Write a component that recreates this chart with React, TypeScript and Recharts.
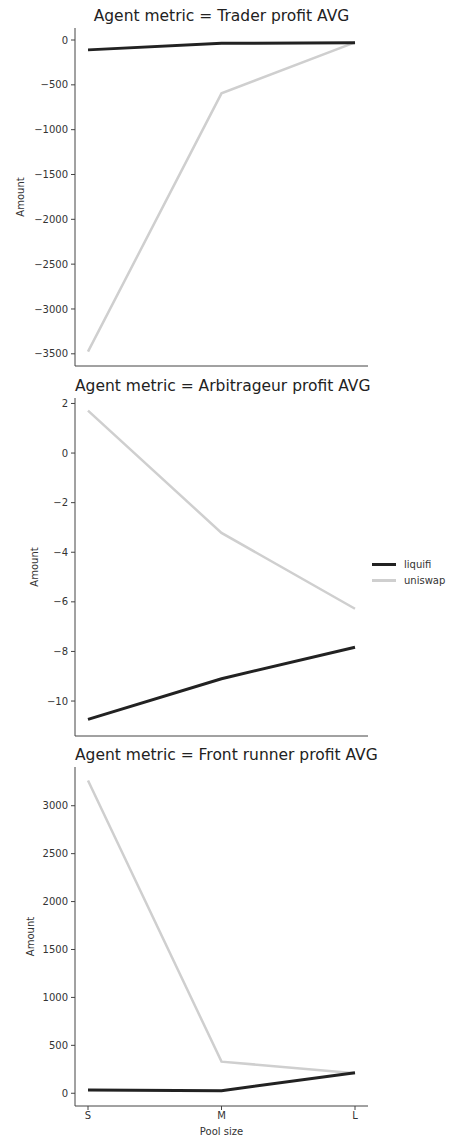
import React from 'react';
import { LineChart, Line, XAxis, YAxis, Legend } from 'recharts';

// Three stacked facets (seaborn relplot style), one per agent metric.
const poolSizes = ['S', 'M', 'L'];

const traderLiquifi = [-110, -37, -30];
const traderUniswap = [-3476, -595, -26];
const traderTicks = [0, -500, -1000, -1500, -2000, -2500, -3000, -3500];

const arbLiquifi = [-10.74, -9.1, -7.83];
const arbUniswap = [1.71, -3.22, -6.28];
const arbTicks = [2, 0, -2, -4, -6, -8, -10];

const frontLiquifi = [34, 27, 215];
const frontUniswap = [3264, 330, 209];
const frontTicks = [0, 500, 1000, 1500, 2000, 2500, 3000];

const FONT = '"DejaVu Sans", sans-serif';
const INK = '#333';
const AXIS = '#444';
const LIQUIFI = '#222';
const UNISWAP = '#cfcfcf';

const rowsOf = (liq: number[], uni: number[]) =>
  poolSizes.map((p, i) => ({ pool: p, liquifi: liq[i], uniswap: uni[i] }));

const minus = (v: number) => String(v).replace('-', '\u2212');

interface PanelProps {
  top: number;
  height: number;
  title: string;
  liq: number[];
  uni: number[];
  ticks: number[];
  domain: [number, number];
  amountX: number;
  last?: boolean;
  legend?: boolean;
}

function PanelLegend() {
  const items = [
    { name: 'liquifi', color: LIQUIFI, w: 3 },
    { name: 'uniswap', color: UNISWAP, w: 2.5 },
  ];
  return (
    <div style={{ fontFamily: FONT, fontSize: 10, color: INK }}>
      {items.map((it) => (
        <div key={it.name} style={{ display: 'flex', alignItems: 'center', height: 15.7 }}>
          <span style={{ width: 24, height: it.w, background: it.color, marginRight: 8 }} />
          <span>{it.name}</span>
        </div>
      ))}
    </div>
  );
}

function Panel({ top, height, title, liq, uni, ticks, domain, amountX, last, legend }: PanelProps) {
  const data = rowsOf(liq, uni);
  return (
    <div style={{ position: 'absolute', left: 0, top, width: 452, height }}>
      <LineChart width={452} height={height} data={data} margin={{ top: 28, right: 84, bottom: 0, left: 0 }}>
        <XAxis
          dataKey="pool"
          padding={{ left: 13, right: 13 }}
          height={last ? 33 : 14}
          tickSize={4}
          tickMargin={2}
          tick={last ? { fontSize: 10, fill: INK, fontFamily: FONT } : false}
          tickLine={{ stroke: AXIS }}
          axisLine={{ stroke: AXIS }}
          label={
            last
              ? { value: 'Pool size', position: 'insideBottom', offset: 4, style: { fontSize: 10, fill: INK, fontFamily: FONT } }
              : undefined
          }
        />
        <YAxis
          type="number"
          domain={domain}
          ticks={ticks}
          interval={0}
          allowDataOverflow
          width={75}
          tickSize={4}
          tickMargin={3}
          tickFormatter={minus}
          tick={{ fontSize: 10, fill: INK, fontFamily: FONT }}
          tickLine={{ stroke: AXIS }}
          axisLine={{ stroke: AXIS }}
          label={{
            value: 'Amount',
            angle: -90,
            position: 'insideLeft',
            offset: amountX,
            style: { textAnchor: 'middle', fontSize: 10, fill: INK, fontFamily: FONT },
          }}
        />
        <Line dataKey="uniswap" stroke={UNISWAP} strokeWidth={2.5} dot={false} activeDot={false} isAnimationActive={false} />
        <Line dataKey="liquifi" stroke={LIQUIFI} strokeWidth={3} dot={false} activeDot={false} isAnimationActive={false} />
        {legend && (
          <Legend
            layout="vertical"
            align="center"
            verticalAlign="middle"
            wrapperStyle={{ left: 372, top: 187, width: 80 }}
            content={() => <PanelLegend />}
          />
        )}
      </LineChart>
      <div
        style={{
          position: 'absolute',
          left: 75,
          width: 293,
          top: 7,
          textAlign: 'center',
          fontFamily: FONT,
          fontSize: 15.5,
          lineHeight: '18px',
          color: '#222',
          whiteSpace: 'nowrap',
        }}
      >
        {title}
      </div>
    </div>
  );
}

export default function App() {
  return (
    <div style={{ position: 'absolute', left: 0, top: 0, width: 452, height: 1139, background: '#fff' }}>
      <Panel
        top={0}
        height={380}
        title="Agent metric = Trader profit AVG"
        liq={traderLiquifi}
        uni={traderUniswap}
        ticks={traderTicks}
        domain={[-3636, 134]}
        amountX={20}
      />
      <Panel
        top={370}
        height={380}
        title="Agent metric = Arbitrageur profit AVG"
        liq={arbLiquifi}
        uni={arbUniswap}
        ticks={arbTicks}
        domain={[-11.41, 2.22]}
        amountX={34}
        legend
      />
      <Panel
        top={739}
        height={400}
        title="Agent metric = Front runner profit AVG"
        liq={frontLiquifi}
        uni={frontUniswap}
        ticks={frontTicks}
        domain={[-133, 3404]}
        amountX={30}
        last
      />
    </div>
  );
}
